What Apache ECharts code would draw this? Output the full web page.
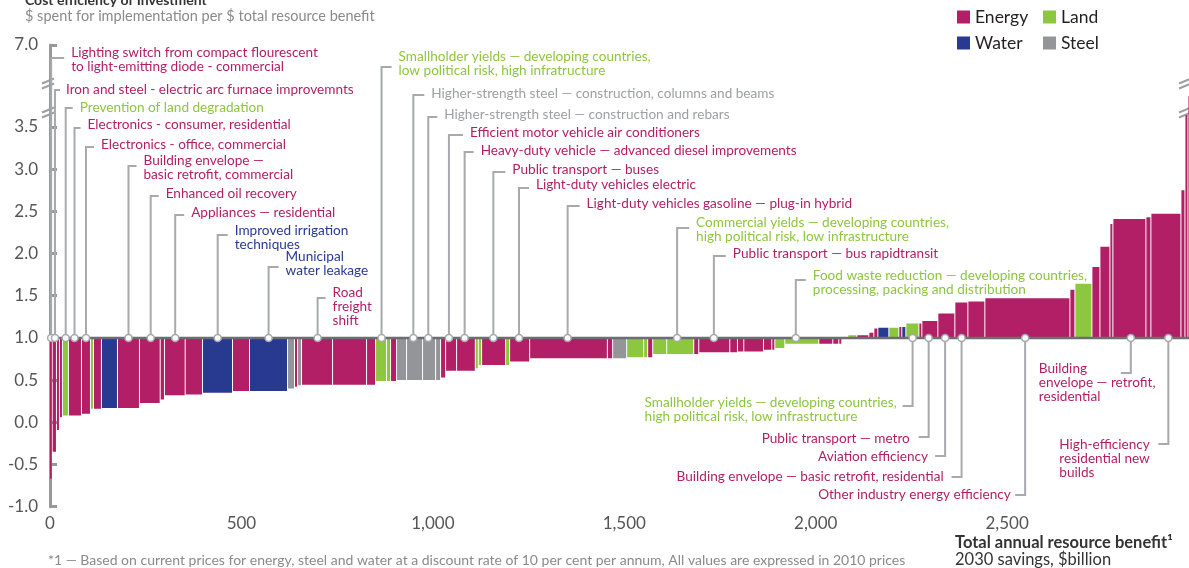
<!DOCTYPE html>
<html><head><meta charset="utf-8">
<script src="https://cdn.jsdelivr.net/npm/echarts@6/dist/echarts.min.js"></script>
<style>html,body{margin:0;padding:0;background:#fff}#c{width:1189px;height:568px}</style>
</head><body><div id="c"></div>
<script>
// ---------------- DATA ----------------
const types = ['Energy', 'Land', 'Water', 'Steel'];
// one entry per lever, left to right along the cost curve
const barType = ['Energy','Energy','Energy','Energy','Land','Energy','Energy','Land','Energy','Water',
  'Energy','Energy','Energy','Energy','Energy','Water','Energy','Water','Steel','Energy',
  'Steel','Energy','Energy','Energy','Land','Land','Energy','Steel','Steel','Steel',
  'Steel','Energy','Energy','Energy','Land','Land','Energy','Land','Energy','Energy',
  'Energy','Steel','Land','Land','Energy','Land','Land','Energy','Energy','Energy',
  'Energy','Energy','Energy','Energy','Land','Land','Energy','Energy','Energy','Energy',
  'Land','Energy','Energy','Energy','Water','Land','Energy','Water','Land','Energy',
  'Energy','Energy','Energy','Energy','Energy','Energy','Land','Energy','Energy','Energy',
  'Energy','Energy','Energy','Energy','Energy','Energy'];
// total annual resource benefit of each lever, $bn (bar width)
const barBenefit = [7, 11.2, 7.8, 7.8, 15.7, 34, 23.5, 7.8, 20.9, 41.8,
  57.5, 54.1, 11.2, 54.1, 45.2, 78.4, 44.4, 99.3, 18.3, 7.8,
  10.5, 81, 88.8, 23.5, 28.7, 10.5, 15.7, 26.1, 41.8, 34,
  13.1, 13.1, 28.7, 48.9, 7.8, 8.6, 62.7, 10.5, 52.3, 203,
  13.8, 36.6, 44.4, 10.5, 13.1, 36.6, 70.6, 13.1, 81, 20.1,
  16.5, 51.5, 21.7, 7.8, 26.1, 88.8, 36.6, 15.7, 7.8, 15.7,
  23.5, 31.4, 13.1, 10.5, 28.7, 26.1, 7.8, 10.5, 34, 7.8,
  41.8, 44.4, 34, 44.4, 222.1, 13.1, 44.4, 20.9, 26.1, 7.8,
  86.2, 13.1, 78.4, 10.5, 7.8, 18];
// cost efficiency, $ spent per $ benefit (bar height, measured from 1.0)
const barCost = [-0.67, -0.35, -0.09, 0.06, 0.08, 0.08, 0.10, 0.16, 0.16, 0.17,
  0.17, 0.23, 0.27, 0.32, 0.33, 0.35, 0.37, 0.37, 0.40, 0.42,
  0.44, 0.445, 0.445, 0.445, 0.49, 0.49, 0.49, 0.50, 0.50, 0.50,
  0.50, 0.53, 0.61, 0.61, 0.64, 0.68, 0.68, 0.68, 0.72, 0.76,
  0.76, 0.76, 0.77, 0.77, 0.77, 0.81, 0.81, 0.81, 0.83, 0.83,
  0.84, 0.84, 0.86, 0.86, 0.88, 0.93, 0.93, 0.93, 0.93, 1.0,
  1.03, 1.03, 1.06, 1.11, 1.12, 1.12, 1.13, 1.13, 1.17, 1.17,
  1.2, 1.29, 1.42, 1.43, 1.47, 1.57, 1.64, 1.84, 2.08, 2.35,
  2.41, 2.43, 2.47, 2.75, 3.64, 4.4];

const topLabelText = [
  'Lighting switch from compact flourescent\nto light-emitting diode - commercial',
  'Iron and steel - electric arc furnace improvemnts',
  'Prevention of land degradation',
  'Electronics - consumer, residential',
  'Electronics - office, commercial',
  'Building envelope —\nbasic retrofit, commercial',
  'Enhanced oil recovery',
  'Appliances — residential',
  'Improved irrigation\ntechniques',
  'Municipal\nwater leakage',
  'Road\nfreight\nshift',
  'Smallholder yields — developing countries,\nlow political risk, high infratructure',
  'Higher-strength steel — construction, columns and beams',
  'Higher-strength steel — construction and rebars',
  'Efficient motor vehicle air conditioners',
  'Heavy-duty vehicle — advanced diesel improvements',
  'Public transport — buses',
  'Light-duty vehicles electric',
  'Light-duty vehicles gasoline — plug-in hybrid',
  'Commercial yields — developing countries,\nhigh political risk, low infrastructure',
  'Public transport — bus rapidtransit',
  'Food waste reduction — developing countries,\nprocessing, packing and distribution'];
const topLabelType = ['Energy','Energy','Land','Energy','Energy','Energy','Energy','Energy','Water','Water',
  'Energy','Land','Steel','Steel','Energy','Energy','Energy','Energy','Energy','Land','Energy','Land'];
const topLabelAt = [3, 13, 41, 64, 94, 205, 263, 327, 438, 571, 699, 866, 949, 988, 1042, 1083, 1158, 1225, 1352, 1638, 1734, 1948];

const bottomLabelText = [
  'Smallholder yields — developing countries,\nhigh political risk, low infrastructure',
  'Public transport — metro',
  'Aviation efficiency',
  'Building envelope — basic retrofit, residential',
  'Other industry energy efficiency',
  'Building\nenvelope — retrofit,\nresidential',
  'High-efficiency\nresidential new\nbuilds'];
const bottomLabelType = ['Land','Energy','Energy','Energy','Energy','Energy','Energy'];
const bottomLabelAt = [2253, 2295, 2338, 2381, 2547, 2823, 2921];

const xTicks = [0, 500, 1000, 1500, 2000, 2500];
const yTicks = [-1, -0.5, 0, 0.5, 1, 1.5, 2, 2.5, 3, 3.5, 7];

// ---------------- LAYOUT / STYLE ----------------
const COLORS = {Energy: '#b31f66', Land: '#8dc63f', Water: '#283a90', Steel: '#939598'};
const TEXT_COLORS = {Energy: '#b31f66', Land: '#8dc63f', Water: '#283a90', Steel: '#9d9fa2'};
const LEADER = '#a7a9ac';
const FONT = 'Lato';
const LABEL_SIZE = 13.6;
const topTextY = [53, 90, 108, 125, 145, 161, 194, 213, 231, 257, 293, 57, 94, 115, 133, 151, 170, 185, 204, 223, 254, 276];
const topStubY = [58, 90, 108, 128, 147, 166, 196, 215, 235, 267, 298, 67, 95, 117, 135, 152, 172, 188, 206, 228, 256, 280];
const topTextDx = [20, 11, 14, 13, 15, 15, 15, 16, 17, 17, 15, 17, 18, 16, 21, 16, 19, 17, 19, 19, 19, 17];
const bottomTextY = [403, 439, 457, 477, 495, 369, 445];
const bottomStubY = [406, 437, 456, 477, 495, 373, 444];
const bottomTextDx = [-268, -167, -127, -285, -207, -92, -109];

// broken value axis: values above BREAK_LO are compressed so that REAL_TOP sits at AXIS_TOP
const BREAK_LO = 3.7, REAL_TOP = 7, AXIS_TOP = 4.47;
const K = (AXIS_TOP - BREAK_LO) / (REAL_TOP - BREAK_LO);
const toAxis = v => v <= BREAK_LO ? v : BREAK_LO + (v - BREAK_LO) * K;
const fromAxis = d => d <= BREAK_LO ? d : BREAK_LO + (d - BREAK_LO) / K;

const starts = [];
{ let acc = 0; barBenefit.forEach(w => { starts.push(acc); acc += w; }); }

function barSeries(type) {
  const data = [];
  barType.forEach((t, i) => {
    if (t === type) data.push([starts[i], starts[i] + barBenefit[i], toAxis(barCost[i])]);
  });
  return {
    type: 'custom', name: type, coordinateSystem: 'cartesian2d', clip: true, z: 2,
    itemStyle: {color: COLORS[type]}, encode: {x: [0, 1], y: 2}, data,
    renderItem: (params, api) => {
      const a = api.coord([api.value(0), api.value(2)]);
      const b = api.coord([api.value(1), 1]);
      const w = Math.max(b[0] - a[0] - 1, 0.8);
      return {type: 'rect', shape: {x: a[0], y: Math.min(a[1], b[1]), width: w, height: Math.abs(a[1] - b[1])},
        style: {fill: COLORS[type]}};
    }
  };
}

const baselineSeries = {
  type: 'custom', coordinateSystem: 'cartesian2d', clip: false, z: 3, silent: true,
  data: [[0, 1]], encode: {x: 0, y: 1},
  renderItem: (params, api) => {
    const p = api.coord([0, 1]);
    const cs = params.coordSys;
    return {type: 'line', shape: {x1: cs.x, y1: p[1], x2: cs.x + cs.width, y2: p[1]},
      style: {stroke: '#6d6e71', lineWidth: 2.5}};
  }
};

function labelSeries(texts, types_, at, textY, stubY, dxArr, below) {
  return {
    type: 'custom', coordinateSystem: 'cartesian2d', clip: false, z: 5, silent: true,
    data: at.map(x => [x, 1]), encode: {x: 0, y: 1},
    renderItem: (params, api) => {
      const i = params.dataIndex;
      const p = api.coord([api.value(0), api.value(1)]);
      const sy = stubY[i];
      const tx = p[0] + dxArr[i];
      const sx = below ? p[0] - 10 : Math.max(tx - 7, p[0] + 5);
      return {type: 'group', children: [
        {type: 'polyline', shape: {points: [[p[0], p[1]], [p[0], sy], [sx, sy]]},
          style: {stroke: LEADER, lineWidth: 2, fill: null}},
        {type: 'circle', shape: {cx: p[0], cy: p[1], r: 3.5},
          style: {fill: '#fff', stroke: LEADER, lineWidth: 1.5}},
        {type: 'text', style: {text: texts[i], x: tx, y: textY[i] - 7, fill: TEXT_COLORS[types_[i]],
          fontSize: LABEL_SIZE, fontFamily: FONT, lineHeight: 14, align: 'left', verticalAlign: 'top'}}
      ]};
    }
  };
}

function breakMark(cx, cy) {
  return {type: 'group', z: 100, children: [
    {type: 'polygon', shape: {points: [[cx - 6, cy + 2], [cx + 6, cy - 3], [cx + 6, cy + 1], [cx - 6, cy + 6]]},
      style: {fill: '#fff'}},
    {type: 'line', shape: {x1: cx - 6, y1: cy + 1.5, x2: cx + 6, y2: cy - 3.5}, style: {stroke: '#9d9fa2', lineWidth: 2}},
    {type: 'line', shape: {x1: cx - 6, y1: cy + 6.5, x2: cx + 6, y2: cy + 1.5}, style: {stroke: '#9d9fa2', lineWidth: 2}}
  ]};
}

const legendCommon = {orient: 'vertical', top: 8, padding: 0, icon: 'rect', itemWidth: 13, itemHeight: 13,
  itemGap: 8, selectedMode: false, textStyle: {fontSize: 17.5, color: '#231f20', fontFamily: FONT}};

const chart = echarts.init(document.getElementById('c'));
chart.setOption({
  animation: false,
  backgroundColor: '#fff',
  textStyle: {fontFamily: FONT},
  grid: {left: 50, right: 0, top: 45, bottom: 61.3, containLabel: false},
  legend: [
    Object.assign({data: ['Energy', 'Water'], left: 957}, legendCommon),
    Object.assign({data: ['Land', 'Steel'], left: 1043}, legendCommon)
  ],
  xAxis: {
    type: 'value', min: 0, max: 2975,
    axisLine: {show: false}, axisTick: {show: false}, splitLine: {show: false},
    axisLabel: {customValues: xTicks, fontSize: 17, color: '#555', margin: 8, fontFamily: FONT,
      formatter: v => v.toLocaleString('en-US')}
  },
  yAxis: {
    type: 'value', min: -1, max: AXIS_TOP, offset: 2,
    axisLine: {show: true, lineStyle: {color: '#999', width: 3}},
    axisTick: {show: true, inside: true, length: 7, lineStyle: {color: '#999', width: 3}, customValues: yTicks.map(toAxis)},
    axisLabel: {customValues: yTicks.map(toAxis), fontSize: 17, color: '#555', margin: 10, fontFamily: FONT,
      formatter: v => fromAxis(v).toFixed(1)},
    splitLine: {show: false}
  },
  graphic: [
    {type: 'text', left: 25, top: -7, style: {text: 'Cost efficiency of Investment', fontSize: 14, fontWeight: 'bold', fill: '#333', fontFamily: FONT}},
    {type: 'text', left: 25, top: 9, style: {text: '$ spent for implementation per $ total resource benefit', fontSize: 14.5, fill: '#8a8a8a', fontFamily: FONT}},
    {type: 'text', left: 955, top: 534, style: {text: 'Total annual resource benefit¹', fontSize: 16.5, fontWeight: 'bold', fill: '#333', fontFamily: FONT}},
    {type: 'text', left: 955, top: 551, style: {text: '2030 savings, $billion', fontSize: 16.5, fill: '#333', fontFamily: FONT}},
    {type: 'text', left: 48, top: 553, style: {text: '*1 — Based on current prices for energy, steel and water at a discount rate of 10 per cent per annum, All values are expressed in 2010 prices', fontSize: 14, fill: '#8a8a8a', fontFamily: FONT}},
    breakMark(48, 82), breakMark(48, 111), breakMark(1185, 82), breakMark(1185, 111)
  ],
  series: [
    ...types.map(barSeries),
    baselineSeries,
    labelSeries(topLabelText, topLabelType, topLabelAt, topTextY, topStubY, topTextDx, false),
    labelSeries(bottomLabelText, bottomLabelType, bottomLabelAt, bottomTextY, bottomStubY, bottomTextDx, true)
  ]
});
</script>
</body></html>
